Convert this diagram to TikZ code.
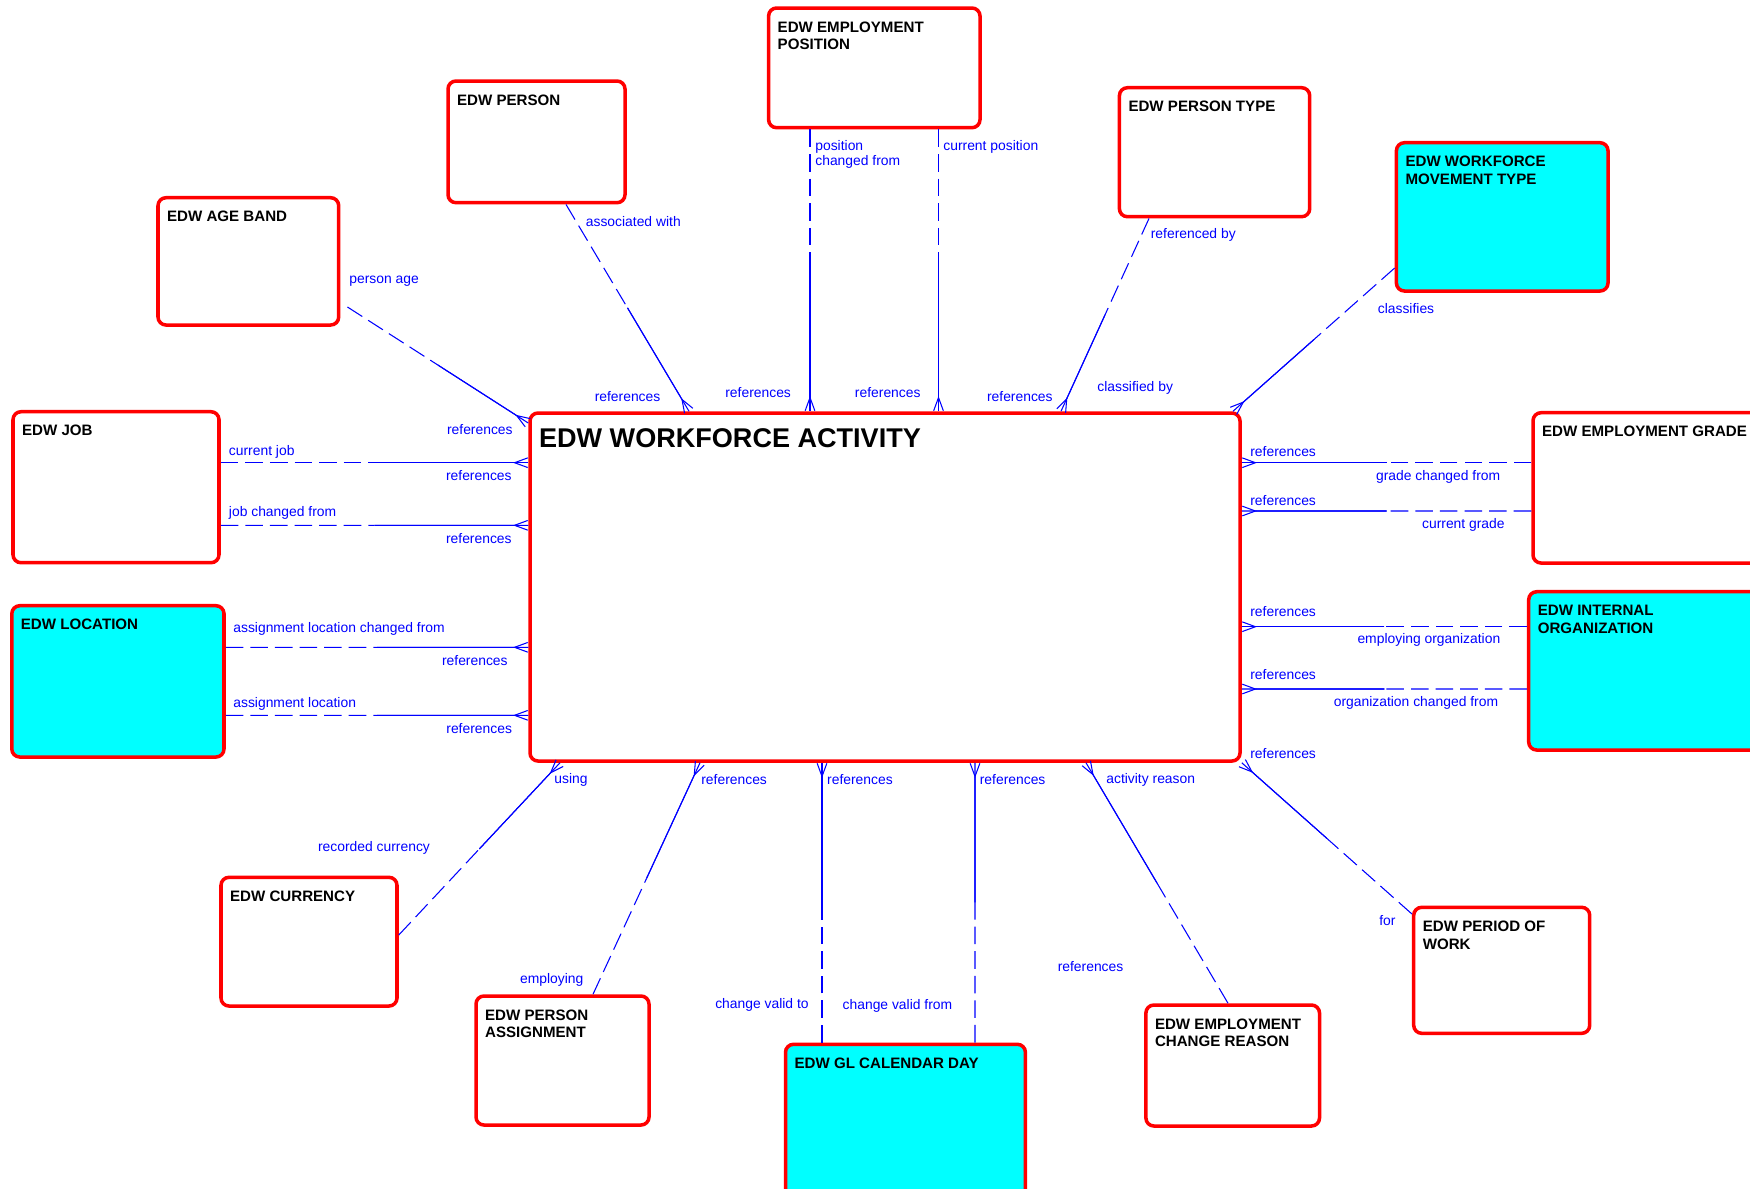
\documentclass[tikz,border=0pt]{standalone}
\usepackage{fontspec}
\setmainfont{Liberation Sans}
\usetikzlibrary{positioning,fit,calc,arrows.meta}
\definecolor{aqua}{RGB}{0,255,255}
\definecolor{erred}{RGB}{255,0,0}
\definecolor{erblue}{RGB}{0,0,255}

\begin{document}
\begin{tikzpicture}[x=0.02cm,y=-0.02cm]
    \tikzset{
        entity/.style={draw=erred, line width=2pt, rounded corners=0.16cm, fill=white, inner sep=0pt},
        ref entity/.style={entity, fill=aqua},
        etitle/.style={font=\fontsize{8.6}{10}\selectfont\bfseries, align=left, inner sep=0pt},
        role/.style={font=\fontsize{7.9}{8.5}\selectfont, text=erblue, inner sep=0pt, align=left},
        rel/.style={erblue, line width=0.6pt},
        crow/.style={-{Straight Barb[reversed,length=7.5pt,width=5.5pt]}},}
    \def\relate#1#2{%
        \draw[rel, dash pattern=on 10pt off 4pt] (#1) -- ($(#1)!.5!(#2)$);
        \draw[rel] ($(#1)!.5!(#2)$) -- (#2);
        \draw[rel, crow] ($(#1)!.5!(#2)$) -- (#2);}
    \useasboundingbox (0,0) rectangle (1750,1188);

    \node[entity, fit={(530,413) (1240,761)}] (act) {};
    \node[entity, fit={(768.6,8) (980,127.7)}] (pos) {};
    \node[entity, fit={(448,81) (625,202.7)}] (person) {};
    \node[entity, fit={(1119.4,87.7) (1309.7,216.7)}] (ptype) {};
    \node[ref entity, fit={(1396.4,142.7) (1608,291)}] (mvtype) {};
    \node[entity, fit={(158,197.7) (338.7,325)}] (age) {};
    \node[entity, fit={(13,411.7) (219,562.7)}] (job) {};
    \node[entity, fit={(1533,412.7) (1800,563)}] (grade) {};
    \node[ref entity, fit={(11.8,605.7) (224,757)}] (loc) {};
    \node[ref entity, fit={(1528.7,591.7) (1800,750)}] (org) {};
    \node[entity, fit={(221,877.3) (397,1006)}] (cur) {};
    \node[entity, fit={(476,996) (649,1125)}] (pasg) {};
    \node[ref entity, fit={(785.5,1044.3) (1025.4,1230)}] (gl) {};
    \node[entity, fit={(1145.9,1005) (1319.5,1126)}] (reason) {};
    \node[entity, fit={(1413.7,907.3) (1589.7,1033.3)}] (period) {};

    \node[etitle, font=\fontsize{15.4}{18}\selectfont\bfseries, below right=0.34cm and 0.21cm of act.north west] (actT) {EDW WORKFORCE ACTIVITY};
    \node[etitle, below right=0.3cm and 0.21cm of pos.north west] (posT) {EDW EMPLOYMENT\\POSITION};
    \node[etitle, below right=0.3cm and 0.21cm of person.north west] (personT) {EDW PERSON};
    \node[etitle, below right=0.3cm and 0.21cm of ptype.north west] (ptypeT) {EDW PERSON TYPE};
    \node[etitle, below right=0.3cm and 0.21cm of mvtype.north west] (mvtypeT) {EDW WORKFORCE\\MOVEMENT TYPE};
    \node[etitle, below right=0.3cm and 0.21cm of age.north west] (ageT) {EDW AGE BAND};
    \node[etitle, below right=0.3cm and 0.21cm of job.north west] (jobT) {EDW JOB};
    \node[etitle, below right=0.3cm and 0.21cm of grade.north west] (gradeT) {EDW EMPLOYMENT GRADE};
    \node[etitle, below right=0.3cm and 0.21cm of loc.north west] (locT) {EDW LOCATION};
    \node[etitle, below right=0.3cm and 0.21cm of org.north west] (orgT) {EDW INTERNAL\\ORGANIZATION};
    \node[etitle, below right=0.3cm and 0.21cm of cur.north west] (curT) {EDW CURRENCY};
    \node[etitle, below right=0.3cm and 0.21cm of pasg.north west] (pasgT) {EDW PERSON\\ASSIGNMENT};
    \node[etitle, below right=0.3cm and 0.21cm of gl.north west] (glT) {EDW GL CALENDAR DAY};
    \node[etitle, below right=0.3cm and 0.21cm of reason.north west] (reasonT) {EDW EMPLOYMENT\\CHANGE REASON};
    \node[etitle, below right=0.3cm and 0.21cm of period.north west] (periodT) {EDW PERIOD OF\\WORK};

    \coordinate (agefoot) at ($(age.east |- 0,307)+(7,0)$);
    \relate{agefoot}{act.west |- 0,423}
    \relate{job.east |- 0,462.7}{act.west |- 0,462.7}
    \relate{job.east |- 0,525.3}{act.west |- 0,525.3}
    \relate{loc.east |- 0,647.3}{act.west |- 0,647.3}
    \relate{loc.east |- 0,715.3}{act.west |- 0,715.3}
    \relate{person.south -| 566,0}{act.north -| 689,0}
    \relate{pos.south -| 810,0}{act.north -| 810,0}
    \relate{pos.south -| 938.5,0}{act.north -| 938.5,0}
    \relate{ptype.south -| 1149,0}{act.north -| 1061,0}
    \relate{mvtype.west |- 0,268}{act.north -| 1233,0}
    \relate{grade.west |- 0,462.7}{act.east |- 0,462.7}
    \relate{grade.west |- 0,511}{act.east |- 0,511}
    \relate{org.west |- 0,626.7}{act.east |- 0,626.7}
    \relate{org.west |- 0,689}{act.east |- 0,689}
    \relate{period.west |- 0,914}{act.south east}
    \relate{cur.east |- 0,935}{act.south -| 560,0}
    \relate{pasg.north -| 593,0}{act.south -| 700,0}
    \relate{gl.north -| 822,0}{act.south -| 822,0}
    \relate{gl.north -| 975,0}{act.south -| 975,0}
    \relate{reason.north -| 1228,0}{act.south -| 1086,0}

    \node[role, anchor=base west] (ageR) at (349,283) {person age};
    \node[role, anchor=base east] (ageF) at (513,434) {references};
    \node[role, anchor=base west] (jobR1) at (228.6,455) {current job};
    \node[role, anchor=base east] (jobF1) at (512,480) {references};
    \node[role, anchor=base west] (jobR2) at (228.6,516) {job changed from};
    \node[role, anchor=base east] (jobF2) at (512,543) {references};
    \node[role, anchor=base west] (locR1) at (233,632.5) {assignment location changed from};
    \node[role, anchor=base east] (locF1) at (508,665) {references};
    \node[role, anchor=base west] (locR2) at (233,707.7) {assignment location};
    \node[role, anchor=base east] (locF2) at (512.3,733) {references};
    \node[role, anchor=base west] (personR) at (585.5,226) {associated with};
    \node[role, anchor=base west] (personF) at (594.4,401) {references};
    \node[role, anchor=west] (posR1) at (815,154) {position\\changed from};
    \node[role, anchor=base west] (posF1) at (725,397.7) {references};
    \node[role, anchor=base west] (posR2) at (943,150) {current position};
    \node[role, anchor=base west] (posF2) at (854.6,397.7) {references};
    \node[role, anchor=base west] (ptypeR) at (1150.5,238.5) {referenced by};
    \node[role, anchor=base west] (ptypeF) at (986.7,401.7) {references};
    \node[role, anchor=base west] (mvtypeR) at (1377.5,313.3) {classifies};
    \node[role, anchor=base west] (mvtypeF) at (1097,391.5) {classified by};
    \node[role, anchor=base west] (gradeF1) at (1250,456) {references};
    \node[role, anchor=base east] (gradeR1) at (1500.6,480) {grade changed from};
    \node[role, anchor=base west] (gradeF2) at (1250,505) {references};
    \node[role, anchor=base east] (gradeR2) at (1505,528.5) {current grade};
    \node[role, anchor=base west] (orgF1) at (1250,616) {references};
    \node[role, anchor=base east] (orgR1) at (1500.6,643) {employing organization};
    \node[role, anchor=base west] (orgF2) at (1250,679) {references};
    \node[role, anchor=base east] (orgR2) at (1498.5,706) {organization changed from};
    \node[role, anchor=base west] (periodF) at (1250,758.3) {references};
    \node[role, anchor=base west] (periodR) at (1379,925) {for};
    \node[role, anchor=base west] (curF) at (554,783.5) {using};
    \node[role, anchor=base west] (curR) at (317.7,851) {recorded currency};
    \node[role, anchor=base west] (pasgF) at (701,784.3) {references};
    \node[role, anchor=base west] (pasgR) at (519.7,983.5) {employing};
    \node[role, anchor=base west] (glF1) at (826.8,784.3) {references};
    \node[role, anchor=base west] (glR1) at (714.9,1008.5) {change valid to};
    \node[role, anchor=base west] (glF2) at (979.5,784.3) {references};
    \node[role, anchor=base west] (glR2) at (842.3,1009.5) {change valid from};
    \node[role, anchor=base west] (reasonF) at (1106,783.5) {activity reason};
    \node[role, anchor=base west] (reasonR) at (1057.4,971.7) {references};
\end{tikzpicture}
\end{document}
